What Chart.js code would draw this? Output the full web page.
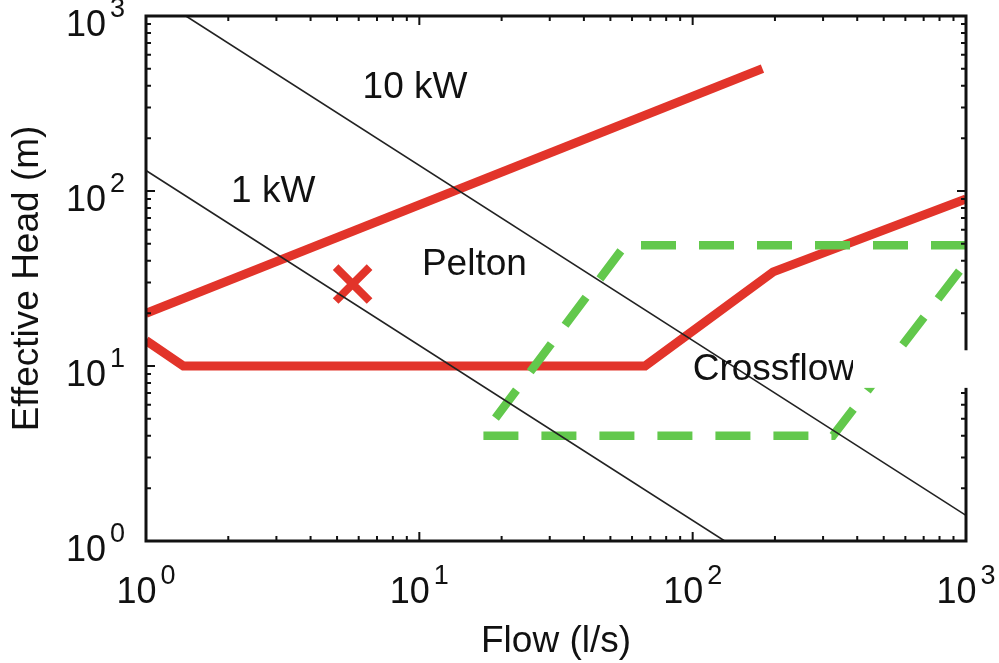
<!DOCTYPE html>
<html>
<head>
<meta charset="utf-8">
<script src="https://cdn.jsdelivr.net/npm/chart.js@4.4.1/dist/chart.umd.min.js"></script>
<style>
  html, body { margin: 0; padding: 0; background: #fff; }
  #wrap { width: 999px; height: 663px; }
</style>
</head>
<body>
<div id="wrap"><canvas id="turbineChart" width="999" height="663"></canvas></div>
<script>
// axis ticks (decades) and their exponent labels
const decades = [1, 10, 100, 1000];
const exponents = ['0', '1', '2', '3'];
const minorSteps = [2, 3, 4, 5, 6, 7, 8, 9];

// power lines (flow l/s, head m)
const kw10Flow = [1.4, 1000];
const kw10Head = [1000, 1.4];
const kw1Flow = [1, 131];
const kw1Head = [131, 1];

// Pelton envelope
const peltonUpperFlow = [1, 180];
const peltonUpperHead = [20, 500];
const peltonLowerFlow = [1, 1.37, 67, 197, 1000];
const peltonLowerHead = [14, 10, 10, 34.5, 90];

// Crossflow envelope
const crossflowFlow = [1000, 56.6, 17, 326, 1000];
const crossflowHead = [49, 49, 4, 4, 39];

// site marker
const siteFlow = [5.7];
const siteHead = [29.4];

// text annotations
const noteText = ['10 kW', '1 kW', 'Pelton', 'Crossflow'];
const noteFlow = [9.64, 2.92, 15.9, 100];
const noteHead = [388, 98.7, 37.8, 9.5];
const noteAlign = ['center', 'center', 'center', 'left'];

const FONT = '"Liberation Sans", Arial, Helvetica, sans-serif';
const red = '#e2342a';
const green = '#62c84c';

const pts = (xs, ys) => xs.map((v, i) => ({ x: v, y: ys[i] }));

const figurePlugin = {
  id: 'figure',
  afterDatasetsDraw(chart) {
    const { ctx, chartArea: a, scales: { x, y } } = chart;
    ctx.save();
    ctx.strokeStyle = '#111';
    ctx.lineWidth = 2;
    ctx.beginPath();
    const tick = (v, len) => {
      const px = x.getPixelForValue(v);
      const py = y.getPixelForValue(v);
      ctx.moveTo(px, a.bottom); ctx.lineTo(px, a.bottom - len);
      ctx.moveTo(px, a.top); ctx.lineTo(px, a.top + len);
      ctx.moveTo(a.left, py); ctx.lineTo(a.left + len, py);
      ctx.moveTo(a.right, py); ctx.lineTo(a.right - len, py);
    };
    decades.forEach((d, i) => {
      tick(d, 9);
      if (i < decades.length - 1) minorSteps.forEach(m => tick(d * m, 5));
    });
    ctx.stroke();

    // frame
    ctx.lineWidth = 3;
    ctx.strokeRect(a.left, a.top, a.right - a.left, a.bottom - a.top);

    // tick labels 10^n
    ctx.fillStyle = '#111';
    ctx.textBaseline = 'alphabetic';
    ctx.textAlign = 'left';
    const big = '36px ' + FONT, small = '27px ' + FONT;
    decades.forEach((d, i) => {
      ctx.font = big;
      const w1 = ctx.measureText('10').width;
      ctx.font = small;
      const w2 = ctx.measureText(exponents[i]).width;
      const gap = 4;
      // x axis
      let sx = x.getPixelForValue(d) - (w1 + gap + w2) / 2;
      let base = a.bottom + 62;
      ctx.font = big; ctx.fillText('10', sx, base);
      ctx.font = small; ctx.fillText(exponents[i], sx + w1 + gap, base - 19);
      // y axis
      sx = a.left - 21 - (w1 + gap + w2);
      base = y.getPixelForValue(d) + 20;
      ctx.font = big; ctx.fillText('10', sx, base);
      ctx.font = small; ctx.fillText(exponents[i], sx + w1 + gap, base - 19);
    });

    // annotations
    ctx.font = '37px ' + FONT;
    ctx.textBaseline = 'middle';
    noteText.forEach((t, i) => {
      ctx.textAlign = noteAlign[i];
      ctx.fillText(t, x.getPixelForValue(noteFlow[i]), y.getPixelForValue(noteHead[i]));
    });

    // white patch over the right part of the figure
    const mx = x.getPixelForValue(386);
    const my1 = y.getPixelForValue(12.3);
    const my2 = y.getPixelForValue(7.5);
    ctx.fillStyle = '#fff';
    ctx.fillRect(mx, my1, chart.width - mx, my2 - my1);
    ctx.restore();
  }
};

const lineSet = (data, color, width, dash) => ({
  data: data,
  showLine: true,
  borderColor: color,
  borderWidth: width,
  borderDash: dash || [],
  pointRadius: 0,
  fill: false,
  tension: 0
});

const config = {
  type: 'scatter',
  data: {
    datasets: [
      lineSet(pts(kw10Flow, kw10Head), '#222', 1.6),
      lineSet(pts(kw1Flow, kw1Head), '#222', 1.6),
      lineSet(pts(crossflowFlow, crossflowHead), green, 8.5, [35, 23]),
      lineSet(pts(peltonUpperFlow, peltonUpperHead), red, 9),
      lineSet(pts(peltonLowerFlow, peltonLowerHead), red, 9),
      {
        data: pts(siteFlow, siteHead),
        pointStyle: 'crossRot',
        pointRadius: 24,
        borderColor: red,
        borderWidth: 8,
        showLine: false
      }
    ]
  },
  options: {
    responsive: false,
    animation: false,
    devicePixelRatio: 1,
    layout: { autoPadding: false, padding: { left: 9.5, right: 33, top: 16, bottom: 2.5 } },
    plugins: { legend: { display: false }, tooltip: { enabled: false } },
    scales: {
      x: {
        type: 'logarithmic',
        min: 1,
        max: 1000,
        grid: { display: false, drawTicks: false },
        border: { display: false },
        ticks: { display: false },
        title: {
          display: true,
          text: 'Flow (l/s)',
          color: '#111',
          font: { family: FONT, size: 37, lineHeight: 1 },
          padding: { top: 82.5, bottom: 0 }
        }
      },
      y: {
        type: 'logarithmic',
        min: 1,
        max: 1000,
        grid: { display: false, drawTicks: false },
        border: { display: false },
        ticks: { display: false },
        title: {
          display: true,
          text: 'Effective Head (m)',
          color: '#111',
          font: { family: FONT, size: 37, lineHeight: 1 },
          padding: { top: 0, bottom: 99.5 }
        }
      }
    }
  },
  plugins: [figurePlugin]
};

const turbineChart = new Chart(document.getElementById('turbineChart'), config);
</script>
</body>
</html>
